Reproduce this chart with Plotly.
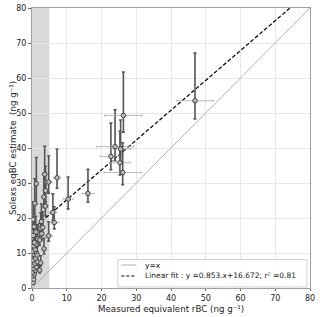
import plotly.graph_objects as go

# measured rBC (x), Solexs eqBC estimate (y) and errors
rbc = [0.3, 0.5, 0.4, 0.7, 0.2, 0.9, 0.5, 1.2, 0.3, 0.8, 1.5, 0.4, 1.0, 0.6, 1.3, 0.3, 0.9, 0.5,
       1.2, 0.7, 1.6, 0.4, 1.1, 0.6, 0.3, 0.8, 1.25,
       2.2, 2.5, 1.5, 2.2, 3.45, 2.5, 2.7, 3.1, 2.8, 3.4, 3.9, 3.85, 3.65, 4.8, 4.8,
       6.0, 6.4, 7.2, 10.4, 16.1, 22.7, 23.9, 25.5, 25.3, 26.1, 26.3, 46.9]
eqbc = [1.5, 2.5, 3.5, 4.0, 4.5, 5.0, 5.5, 6.0, 6.5, 7.0, 7.5, 8.0, 8.5, 9.5, 10.0, 10.5, 11.0, 12.0,
        12.5, 13.0, 14.0, 15.0, 16.0, 17.5, 19.6, 24.2, 29.8,
        5.1, 7.2, 9.4, 13.7, 11.2, 17.0, 19.0, 17.3, 15.5, 26.0, 27.8, 23.4, 32.5, 30.3, 14.9,
        21.6, 18.7, 31.5, 25.4, 27.0, 37.6, 40.4, 39.7, 35.8, 33.0, 49.3, 53.5]
err_up = [0.5, 0.8, 1.0, 1.2, 1.2, 1.5, 1.5, 1.8, 2.0, 2.0, 2.2, 2.2, 2.5, 2.8, 3.0, 3.0, 3.0, 3.2,
          3.5, 3.5, 4.0, 4.0, 4.5, 4.8, 5.0, 7.0, 7.5,
          1.5, 2.0, 2.5, 3.5, 3.0, 4.5, 5.0, 4.5, 4.0, 6.5, 7.0, 6.0, 8.0, 7.5, 4.0,
          5.3, 4.5, 8.2, 6.3, 6.9, 9.5, 10.5, 8.3, 9.0, 8.5, 12.4, 13.6]
err_down = [0.3, 0.4, 0.5, 0.6, 0.6, 0.7, 0.7, 0.8, 0.9, 0.9, 1.0, 1.0, 1.1, 1.2, 1.3, 1.3, 1.4, 1.5,
            1.5, 1.6, 1.7, 1.8, 2.0, 2.0, 2.2, 3.0, 5.8,
            0.8, 1.0, 1.2, 1.5, 1.5, 2.0, 2.2, 2.0, 1.8, 3.0, 3.2, 2.8, 3.5, 3.2, 1.5,
            2.3, 1.8, 3.0, 2.8, 2.5, 3.8, 4.0, 3.5, 3.5, 3.5, 4.8, 5.2]
err_x = [0.1, 0.1, 0.1, 0.2, 0.1, 0.2, 0.1, 0.3, 0.1, 0.2, 0.3, 0.1, 0.2, 0.2, 0.3, 0.1, 0.2, 0.1,
         0.3, 0.2, 0.3, 0.1, 0.3, 0.2, 0.1, 0.2, 0.3,
         0.5, 0.5, 0.3, 0.5, 0.7, 0.5, 0.6, 0.6, 0.6, 0.7, 0.8, 0.8, 0.7, 1.0, 1.0,
         1.2, 1.3, 1.0, 1.5, 1.7, 3.1, 5.3, 3.0, 3.0, 5.4, 5.4, 5.4]

fit_slope = 0.853
fit_intercept = 16.672
axis_ticks = [0, 10, 20, 30, 40, 50, 60, 70, 80]
shade_max = 5
label_identity = "y=x"
label_fit = "Linear fit : y =0.853.x+16.672; r² =0.81"

fig = go.Figure()

fig.add_shape(type="rect", x0=0, x1=shade_max, y0=0, y1=1, xref="x", yref="paper",
              fillcolor="#d9d9d9", line_width=0, layer="between")

fig.add_trace(go.Scatter(x=[0, 80], y=[0, 80], mode="lines", name=label_identity, showlegend=False,
                         line=dict(color="#b0b0b0", width=1)))
fig.add_trace(go.Scatter(x=[0, 80], y=[fit_intercept, fit_slope * 80 + fit_intercept], mode="lines",
                         name=label_fit, showlegend=False,
                         line=dict(color="black", width=1.2, dash="4px,2px")))

fig.add_trace(go.Scatter(
    x=rbc, y=eqbc, mode="markers", showlegend=False,
    marker=dict(symbol="circle", size=4.5, color="#bcbcbc", line=dict(color="#444444", width=1)),
    error_y=dict(type="data", symmetric=False, array=err_up, arrayminus=err_down,
                 color="#555555", thickness=1.6, width=1.5),
    error_x=dict(type="data", array=err_x, color="#aaaaaa", thickness=0.8, width=1),
))

axis_common = dict(range=[0, 80], tickvals=axis_ticks, showgrid=True, gridcolor="#e8e8e8",
                   gridwidth=1, showline=True, linecolor="#a0a0a0", linewidth=1, mirror=True,
                   zeroline=False, ticks="outside", tickcolor="#666",
                   tickfont=dict(size=8, color="#222"), automargin=False)

fig.update_xaxes(**axis_common, ticklen=2)
fig.update_yaxes(**axis_common, ticklen=3)

# axis titles
fig.add_annotation(text="Measured equivalent rBC (ng g⁻¹)", xref="paper", yref="paper",
                   x=0.5, y=-0.076, xanchor="center", yanchor="middle", showarrow=False,
                   font=dict(size=8.7, color="#222"))
fig.add_annotation(text="Solexs eqBC estimate  (ng g⁻¹)", xref="paper", yref="paper",
                   x=-0.0683, y=0.5, xanchor="center", yanchor="middle", textangle=-90,
                   showarrow=False, font=dict(size=8.7, color="#222"))

# legend box drawn in paper coordinates
fig.add_shape(type="rect", xref="paper", yref="paper", x0=0.309, x1=0.989, y0=0.0036, y1=0.102,
              fillcolor="rgba(255,255,255,0.85)", line=dict(color="#d0d0d0", width=1), layer="above")
fig.add_shape(type="line", xref="paper", yref="paper", x0=0.3213, x1=0.3752, y0=0.0821, y1=0.0821,
              line=dict(color="#b0b0b0", width=1), layer="above")
fig.add_shape(type="line", xref="paper", yref="paper", x0=0.3213, x1=0.3752, y0=0.0429, y1=0.0429,
              line=dict(color="black", width=1.2, dash="3px,2px"), layer="above")
fig.add_annotation(text=label_identity, xref="paper", yref="paper", x=0.3993, y=0.0821,
                   xanchor="left", yanchor="middle", showarrow=False, font=dict(size=7.5, color="#222"))
fig.add_annotation(text=label_fit, xref="paper", yref="paper", x=0.3993, y=0.0429,
                   xanchor="left", yanchor="middle", showarrow=False, font=dict(size=7.5, color="#222"))

fig.update_layout(
    width=320, height=317,
    margin=dict(l=32, r=10, t=8, b=29),
    plot_bgcolor="white", paper_bgcolor="white",
    font=dict(family="DejaVu Sans", size=9, color="#222"),
    showlegend=False,
)

fig.write_html("out.html", config={"displayModeBar": False},
               post_script="document.body.style.margin='0px';document.body.style.overflow='hidden';")
